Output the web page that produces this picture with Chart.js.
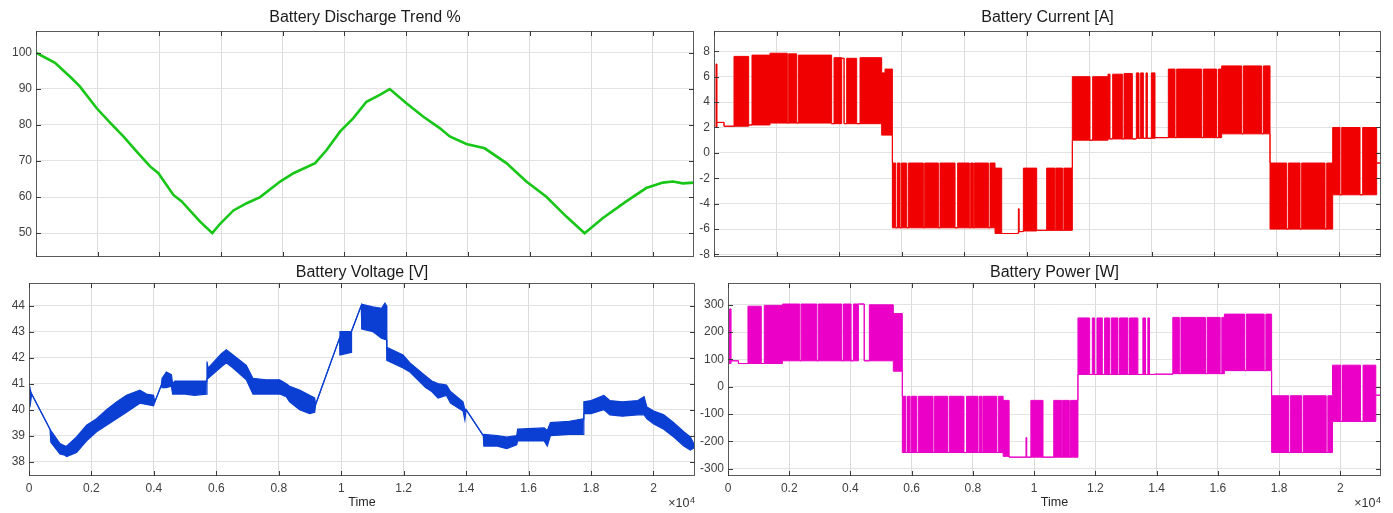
<!DOCTYPE html>
<html><head><meta charset="utf-8">
<script src="https://cdn.jsdelivr.net/npm/chart.js@4.4.1/dist/chart.umd.min.js"></script>
<style>
html,body{margin:0;padding:0;background:#fff;width:1393px;height:513px;overflow:hidden}
canvas{position:absolute;left:0;top:0}
</style></head><body>
<canvas id="cTrend" width="1393" height="513"></canvas>
<canvas id="cCur" width="1393" height="513"></canvas>
<canvas id="cVolt" width="1393" height="513"></canvas>
<canvas id="cPow" width="1393" height="513"></canvas>
<script>
// ---------- shared axis data ----------
const T_MAX = 21330;
const timeTicks = [0,2000,4000,6000,8000,10000,12000,14000,16000,18000,20000];

// ---------- Battery Discharge Trend % ----------
const trendTicks = [50,60,70,80,90,100];
const trendT = [0,616,1157,1427,1968,2400,2832,3265,3697,3968,4454,4724,5319,5715,5968,6400,6832,7265,7914,8346,9049,9427,9860,10280,10712,11144,11467,12008,12547,13087,13411,13952,14545,15248,15896,16544,17192,17784,18378,19134,19782,20321,20645,20969,21320];
const trendV = [100,97.2,92.9,90.6,84.6,80.6,76.8,72.6,68.5,66.6,60.6,58.8,53.2,50.0,52.6,56.3,58.3,60.0,64.3,66.6,69.4,73.1,78.2,81.8,86.4,88.3,89.9,86.0,82.3,79.1,76.8,74.7,73.5,69.4,64.3,60.1,54.6,50.0,54.2,58.8,62.5,64.0,64.3,63.8,64.0];

// ---------- Battery Current [A] (level held from each time to the next) ----------
const curTicks = [-8,-6,-4,-2,0,2,4,6,8];
const curT  = [0,64,96,320,640,1109,1215,1791,2345,2388,2644,2697,3763,3838,4083,4160,4243,4563,4670,5362,5469,5704,5810,5864,5949,5991,6162,6215,6695,6738,7175,7228,7708,7793,8166,8209,8294,8326,8774,8827,8987,9200,9733,9760,9893,10320,10639,10900,10930,11150,11190,11459,12024,12110,12600,12664,12750,13058,13112,13378,13506,13591,13645,13730,13815,13858,13986,14103,14529,14743,14796,15596,15650,16076,16130,16235,16875,16928,17515,17568,17781,18314,18368,18741,18794,19540,19594,19785,20019,20073,20659,20744,21192,21330];
const curHi = [2.0,7.0,2.4,2.1,7.6,2.2,7.7,7.85,2.35,7.8,2.35,7.7,2.3,7.5,7.45,2.3,7.45,2.3,7.5,6.3,6.6,-0.8,-5.9,-0.8,-5.9,-0.8,-5.9,-0.8,-5.9,-0.8,-5.9,-0.8,-5.9,-0.8,-5.9,-0.8,-5.9,-0.8,-5.9,-0.8,-1.2,-6.35,-4.4,-6.2,-1.2,-6.1,-1.2,-6.1,-1.2,-6.1,-1.2,6.0,1.0,6.0,6.2,1.1,6.2,1.1,6.25,1.1,6.3,1.15,6.3,1.15,6.3,1.15,6.3,1.2,6.6,1.2,6.6,1.2,6.6,1.2,6.6,6.85,1.5,6.85,1.5,6.85,-0.8,-6.0,-0.8,-6.0,-0.8,-6.0,-0.8,2.0,-3.3,2.0,-3.3,2.0,-0.8,-0.8];
const curLo = [2.0,2.0,2.4,2.1,2.1,2.2,2.2,2.35,2.35,2.35,2.35,2.35,2.3,2.3,7.45,2.3,2.3,2.3,2.3,1.4,1.4,-5.9,-5.9,-5.9,-5.9,-5.9,-5.9,-5.9,-5.9,-5.9,-5.9,-5.9,-5.9,-5.9,-5.9,-5.9,-5.9,-5.9,-5.9,-5.9,-6.35,-6.35,-6.25,-6.2,-6.15,-6.1,-6.1,-6.1,-6.1,-6.1,-6.1,1.0,1.0,1.0,1.1,1.1,1.1,1.1,1.1,1.1,1.15,1.15,1.15,1.15,1.15,1.15,1.15,1.2,1.2,1.2,1.2,1.2,1.2,1.2,1.2,1.5,1.5,1.5,1.5,1.5,-6.0,-6.0,-6.0,-6.0,-6.0,-6.0,-6.0,-3.3,-3.3,-3.3,-3.3,-3.3,-0.8,-0.8];

// ---------- Battery Voltage [V] (upper / lower envelope) ----------
const voltTicks = [38,39,40,41,42,43,44];
const voltT  = [0,30,85,672,700,991,1151,1205,1524,1844,2164,2484,2804,3123,3550,3763,3990,4030,4240,4260,4400,4560,4600,4670,5000,5300,5680,5700,5735,6160,6320,6535,6960,7174,7600,8027,8240,8347,8667,8987,9150,9180,9946,9960,10319,10330,10640,10660,11010,11290,11400,11450,11460,11980,12200,12700,12900,13100,13370,13500,13900,13960,14000,14550,14570,15000,15300,15620,15650,16500,16600,16700,17300,17750,17770,18000,18410,18600,19000,19500,19700,19790,20010,20330,20650,20970,21180,21330];
const voltHi = [40.9,40.9,40.6,39.25,39.2,38.7,38.6,38.6,38.95,39.4,39.65,40.0,40.3,40.55,40.75,40.6,40.55,40.3,40.95,41.2,41.45,41.35,41.0,41.1,41.1,41.1,41.1,41.85,41.6,42.15,42.3,42.1,41.7,41.2,41.15,41.15,41.0,40.9,40.75,40.55,40.45,40.2,42.75,43.0,43.0,43.0,44.0,44.05,43.95,43.9,44.1,44.0,42.4,42.1,41.8,41.3,41.1,41.0,40.95,40.7,40.3,40.0,40.0,39.0,39.05,39.0,38.95,39.0,39.25,39.3,39.2,39.5,39.55,39.65,40.3,40.35,40.55,40.35,40.3,40.35,40.5,40.1,39.95,39.8,39.5,39.15,38.95,38.6];
const voltLo = [40.9,40.1,40.6,39.25,38.75,38.3,38.25,38.2,38.35,38.8,39.15,39.4,39.65,39.9,40.25,40.2,40.15,40.3,40.95,40.85,40.85,40.9,40.6,40.6,40.6,40.55,40.6,41.2,41.2,41.65,41.8,41.6,41.15,40.6,40.6,40.6,40.5,40.3,40.0,39.85,39.9,40.2,42.75,42.1,42.2,43.0,44.0,43.1,43.0,42.75,42.7,42.7,41.9,41.6,41.45,40.85,40.7,40.45,40.55,40.25,39.95,39.6,40.0,39.0,38.6,38.6,38.5,38.65,38.8,38.8,38.6,39.0,39.05,39.05,39.85,39.85,40.0,39.8,39.75,39.8,39.8,39.65,39.45,39.25,38.95,38.6,38.45,38.55];

// ---------- Battery Power [W] (level held from each time to the next) ----------
const powTicks = [-300,-200,-100,0,100,200,300];
const powT  = [0,52,100,340,652,1087,1185,1780,2345,2388,2901,2950,3717,3770,4020,4096,4259,4450,4618,5400,5694,5810,5864,5949,5991,6162,6215,6695,6738,7175,7228,7708,7793,8166,8209,8294,8326,8774,8827,8987,9183,9733,9760,9893,10290,10640,10900,10930,11150,11190,11431,11813,11900,11976,12052,12226,12302,12465,12519,12737,12791,13063,13117,13389,13552,13639,13715,13770,13933,14530,14743,14796,15596,15650,16076,16130,16215,16875,16928,17515,17568,17757,18314,18368,18741,18794,19540,19594,19746,20019,20073,20659,20744,21160,21330];
const powHi = [85,285,95,85,295,85,298,303,95,303,95,303,95,303,95,303,303,95,300,268,-35,-241,-35,-241,-35,-241,-35,-241,-35,-241,-35,-241,-35,-241,-35,-241,-35,-241,-35,-50,-258,-186,-258,-50,-258,-50,-258,-50,-258,-50,252,45,252,45,252,45,252,45,252,45,252,45,252,45,252,45,252,45,46,254,48,254,48,254,48,254,266,59,266,59,266,-33,-241,-33,-241,-33,-241,-33,79,-127,79,-127,79,-31,-31];
const powLo = [85,85,95,85,85,85,85,95,95,95,95,95,95,95,95,95,303,95,95,57,-241,-241,-241,-241,-241,-241,-241,-241,-241,-241,-241,-241,-241,-241,-241,-241,-241,-241,-241,-255,-258,-258,-258,-258,-258,-258,-258,-258,-258,-258,45,45,45,45,45,45,45,45,45,45,45,45,45,45,45,45,45,45,46,48,48,48,48,48,48,48,59,59,59,59,59,-241,-241,-241,-241,-241,-241,-241,-127,-127,-127,-127,-127,-31,-31];

// ---------- helpers ----------
const pts = (xs, ys) => xs.map((x, i) => ({x, y: ys[i]}));
Chart.defaults.font.family = "'Liberation Sans', Arial, Helvetica, sans-serif";
const W = 1393, H = 513;

const boxPlugin = {
  id: 'box',
  afterDatasetsDraw(chart) {
    const {ctx, chartArea: a, scales} = chart;
    ctx.save();
    ctx.strokeStyle = '#5a5a5a';
    ctx.lineWidth = 1;
    ctx.strokeRect(Math.round(a.left) + 0.5, Math.round(a.top) + 0.5,
                   Math.round(a.right - a.left) - 1, Math.round(a.bottom - a.top) - 1);
    ctx.strokeStyle = '#3a3a3a';
    ctx.beginPath();
    scales.x.ticks.forEach(t => {
      const p = Math.round(scales.x.getPixelForValue(t.value)) + 0.5;
      ctx.moveTo(p, a.bottom); ctx.lineTo(p, a.bottom - 5);
      ctx.moveTo(p, a.top); ctx.lineTo(p, a.top + 5);
    });
    scales.y.ticks.forEach(t => {
      const p = Math.round(scales.y.getPixelForValue(t.value)) + 0.5;
      ctx.moveTo(a.left, p); ctx.lineTo(a.left + 5, p);
      ctx.moveTo(a.right, p); ctx.lineTo(a.right - 5, p);
    });
    ctx.stroke();
    ctx.restore();
  }
};

const expPlugin = {
  id: 'exp',
  afterDraw(chart) {
    const {ctx, chartArea: a} = chart;
    ctx.save();
    ctx.fillStyle = '#333';
    ctx.textAlign = 'right';
    ctx.textBaseline = 'alphabetic';
    ctx.font = "9px 'Liberation Sans', Arial, sans-serif";
    ctx.fillText('4', a.right, a.bottom + 27.3);
    const w = ctx.measureText('4').width;
    ctx.font = "12.5px 'Liberation Sans', Arial, sans-serif";
    ctx.fillText('\u00d710', a.right - w - 0.5, a.bottom + 31.3);
    ctx.restore();
  }
};

function build(id, o) {
  return new Chart(document.getElementById(id), {
    type: 'line',
    data: {datasets: o.datasets},
    options: {
      responsive: false, animation: false, events: [], parsing: false, normalized: true,
      layout: {padding: {left: 0, top: 0, right: W - o.R, bottom: o.showX ? 0 : H - o.B}},
      plugins: {
        legend: {display: false}, tooltip: {enabled: false},
        title: {display: true, text: o.title, fullSize: false, color: '#1a1a1a',
                font: {size: 16, weight: 'normal'},
                padding: {top: o.titleMid - 9.6, bottom: o.T - o.titleMid - 9.6}}
      },
      scales: {
        x: {
          type: 'linear', min: 0, max: T_MAX,
          afterBuildTicks: s => { s.ticks = timeTicks.map(v => ({value: v})); },
          afterFit: s => { s.height = o.showX ? H - o.B : 0; },
          grid: {color: '#dcdcdc', drawTicks: false}, border: {display: false},
          ticks: {display: o.showX, padding: 5, color: '#404040', font: {size: 12},
                  maxRotation: 0, autoSkip: false, callback: v => String(v / 10000)},
          title: {display: o.showX, text: 'Time', color: '#262626', font: {size: 12.5},
                  padding: {top: 0, bottom: 2.5}}
        },
        y: {
          type: 'linear', min: o.yMin, max: o.yMax,
          afterBuildTicks: s => { s.ticks = o.yTicks.map(v => ({value: v})); },
          afterFit: s => { s.width = o.L; },
          grid: {color: '#e2e2e2', drawTicks: false}, border: {display: false},
          ticks: {padding: 4, color: '#404040', font: {size: 12}, autoSkip: false,
                  callback: v => String(v)}
        }
      }
    },
    plugins: o.showX ? [boxPlugin, expPlugin] : [boxPlugin]
  });
}

const GREEN = '#17c617', RED = '#f00000', BLUE = '#0b3fd3', MAGENTA = '#ea00c6';

build('cTrend', {
  L: 36, T: 31, R: 694, B: 257, titleMid: 17.8, showX: false,
  title: 'Battery Discharge Trend %', yMin: 43.4, yMax: 106, yTicks: trendTicks,
  datasets: [{data: pts(trendT, trendV), borderColor: GREEN, borderWidth: 2.6,
              pointRadius: 0, fill: false, tension: 0}]
});

build('cCur', {
  L: 714, T: 31, R: 1381, B: 257, titleMid: 17.8, showX: false,
  title: 'Battery Current [A]', yMin: -8.2, yMax: 9.6, yTicks: curTicks,
  datasets: [
    {data: pts(curT, curHi), stepped: true, borderColor: RED, backgroundColor: RED,
     borderWidth: 1, pointRadius: 0, fill: '+1'},
    {data: pts(curT, curLo), stepped: true, borderColor: RED, borderWidth: 1,
     pointRadius: 0, fill: false}
  ]
});

build('cVolt', {
  L: 29, T: 283, R: 695, B: 476, titleMid: 272.7, showX: true,
  title: 'Battery Voltage [V]', yMin: 37.45, yMax: 44.87, yTicks: voltTicks,
  datasets: [
    {data: pts(voltT, voltHi), borderColor: BLUE, backgroundColor: BLUE,
     borderWidth: 1.2, pointRadius: 0, fill: '+1', tension: 0},
    {data: pts(voltT, voltLo), borderColor: BLUE, borderWidth: 1.2,
     pointRadius: 0, fill: false, tension: 0}
  ]
});

build('cPow', {
  L: 728, T: 283, R: 1381, B: 476, titleMid: 272.7, showX: true,
  title: 'Battery Power [W]', yMin: -327, yMax: 380, yTicks: powTicks,
  datasets: [
    {data: pts(powT, powHi), stepped: true, borderColor: MAGENTA, backgroundColor: MAGENTA,
     borderWidth: 1, pointRadius: 0, fill: '+1'},
    {data: pts(powT, powLo), stepped: true, borderColor: MAGENTA, borderWidth: 1,
     pointRadius: 0, fill: false}
  ]
});
</script>
</body></html>
